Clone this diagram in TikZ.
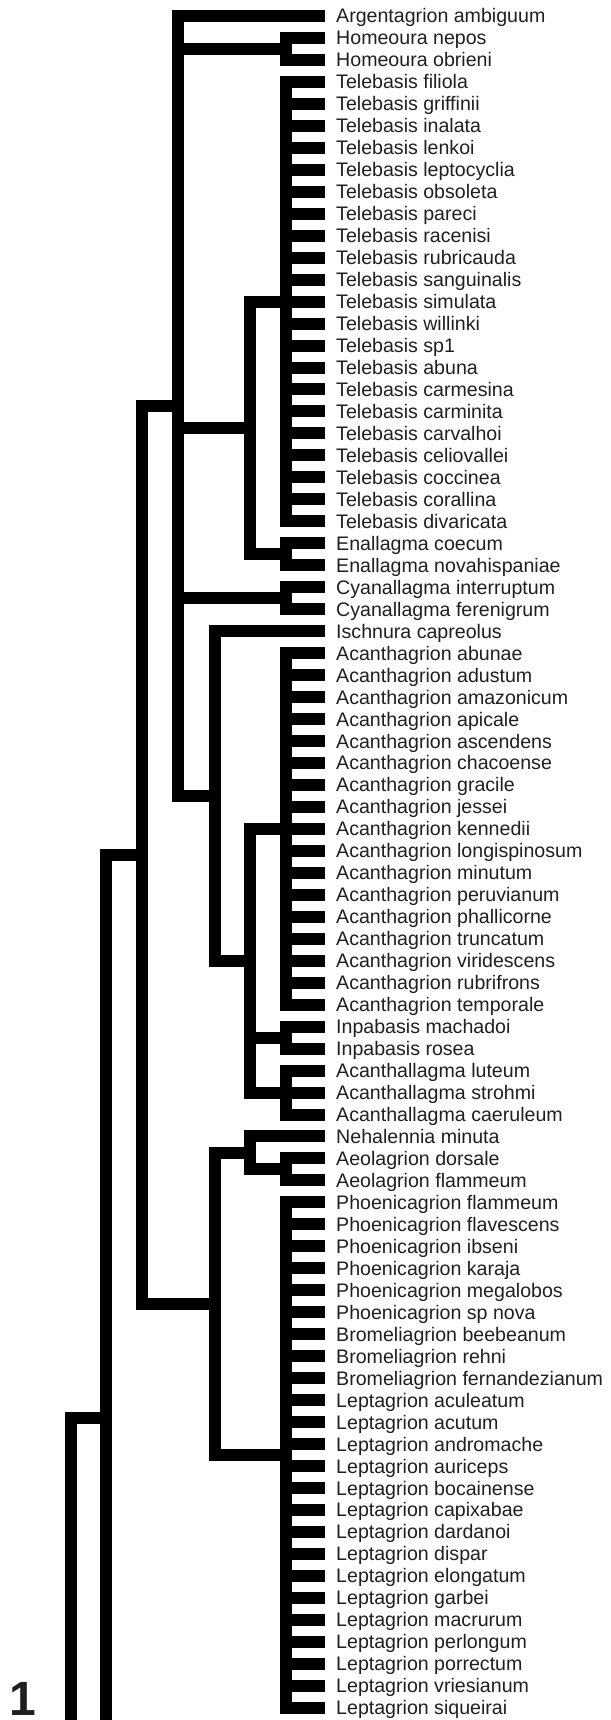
\documentclass[tikz,border=0pt]{standalone}
\usepackage{fontspec}
\setmainfont{Liberation Sans}
\begin{document}
\begin{tikzpicture}[x=1pt,y=-1pt,
  br/.style={line width=12pt,line join=miter,line cap=butt,draw=black},
  lab/.style={anchor=west,inner sep=0pt,text height=14pt,text depth=0pt,
    font=\fontsize{19.6}{22}\selectfont,text=black!88}]
\useasboundingbox (0,0) rectangle (610,1720);
% tip labels
\foreach \name [count=\i] in {Argentagrion ambiguum,Homeoura nepos,Homeoura obrieni,
Telebasis filiola,Telebasis griffinii,Telebasis inalata,Telebasis lenkoi,Telebasis leptocyclia,
Telebasis obsoleta,Telebasis pareci,Telebasis racenisi,Telebasis rubricauda,Telebasis sanguinalis,
Telebasis simulata,Telebasis willinki,Telebasis sp1,Telebasis abuna,Telebasis carmesina,
Telebasis carminita,Telebasis carvalhoi,Telebasis celiovallei,Telebasis coccinea,Telebasis corallina,
Telebasis divaricata,Enallagma coecum,Enallagma novahispaniae,Cyanallagma interruptum,
Cyanallagma ferenigrum,Ischnura capreolus,Acanthagrion abunae,Acanthagrion adustum,
Acanthagrion amazonicum,Acanthagrion apicale,Acanthagrion ascendens,Acanthagrion chacoense,
Acanthagrion gracile,Acanthagrion jessei,Acanthagrion kennedii,Acanthagrion longispinosum,
Acanthagrion minutum,Acanthagrion peruvianum,Acanthagrion phallicorne,Acanthagrion truncatum,
Acanthagrion viridescens,Acanthagrion rubrifrons,Acanthagrion temporale,Inpabasis machadoi,
Inpabasis rosea,Acanthallagma luteum,Acanthallagma strohmi,Acanthallagma caeruleum,
Nehalennia minuta,Aeolagrion dorsale,Aeolagrion flammeum,Phoenicagrion flammeum,
Phoenicagrion flavescens,Phoenicagrion ibseni,Phoenicagrion karaja,Phoenicagrion megalobos,
Phoenicagrion sp nova,Bromeliagrion beebeanum,Bromeliagrion rehni,Bromeliagrion fernandezianum,
Leptagrion aculeatum,Leptagrion acutum,Leptagrion andromache,Leptagrion auriceps,
Leptagrion bocainense,Leptagrion capixabae,Leptagrion dardanoi,Leptagrion dispar,
Leptagrion elongatum,Leptagrion garbei,Leptagrion macrurum,Leptagrion perlongum,
Leptagrion porrectum,Leptagrion vriesianum,Leptagrion siqueirai}
  \node[lab] (t\i) at (336,{16+(\i-1)*21.97}) {\name};
% internal nodes
\coordinate (H) at (286,49);
\coordinate (T) at (286,301.6);
\coordinate (En) at (286,554.3);
\coordinate (TE) at (250,428);
\coordinate (Cy) at (286,598.2);
\coordinate (Ac) at (286,828.9);
\coordinate (Inp) at (286,1037.6);
\coordinate (Acl) at (286,1092.5);
\coordinate (AIA) at (250,960.7);
\coordinate (IA) at (215,796);
\coordinate (A) at (178,406);
\coordinate (Ae) at (286,1169.4);
\coordinate (NA) at (250,1153);
\coordinate (PBL) at (286,1455);
\coordinate (C) at (215,1304);
\coordinate (B) at (142,855);
\coordinate (D) at (106,1418);
\coordinate (Dout) at (106,1730);
\coordinate (Eout) at (71,1730);
% branches
\foreach \p/\c in {A/t1,H/t2,H/t3,En/t25,En/t26,Cy/t27,Cy/t28,IA/t29,
  Inp/t47,Inp/t48,Acl/t49,Acl/t50,Acl/t51,NA/t52,Ae/t53,Ae/t54}
  \draw[br] (\p) |- ([xshift=-11pt]\c.west);
\foreach \i in {4,...,24} \draw[br] (T) |- ([xshift=-11pt]t\i.west);
\foreach \i in {30,...,46} \draw[br] (Ac) |- ([xshift=-11pt]t\i.west);
\foreach \i in {55,...,78} \draw[br] (PBL) |- ([xshift=-11pt]t\i.west);
\foreach \p/\c in {A/H,A/TE,A/Cy,A/IA,TE/T,TE/En,IA/AIA,AIA/Ac,AIA/Inp,AIA/Acl,
  B/A,B/C,C/NA,C/PBL,NA/Ae,D/B}
  \draw[br] (\p) |- (\c);
\draw[br] (D) -- (Dout);
\draw[br] (Eout) |- (D);
% panel number
\node[anchor=base west,inner sep=0pt,font=\fontsize{48}{48}\selectfont\bfseries,text=black!88] (fig) at (9,1715) {1};
\end{tikzpicture}
\end{document}
